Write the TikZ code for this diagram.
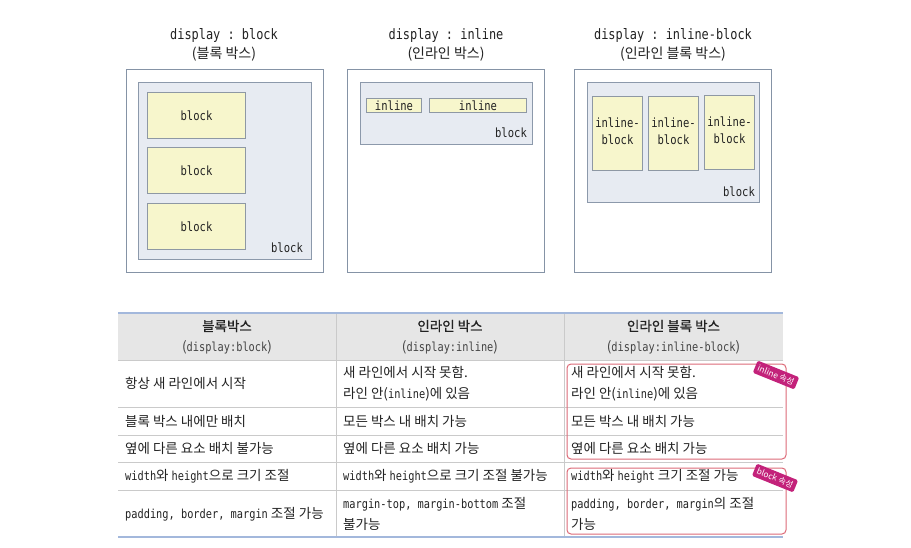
\documentclass[tikz,border=0pt]{standalone}
\usepackage{fontspec}
\setmainfont{Noto Sans CJK KR}
\newfontfamily\hdfont{Noto Sans CJK KR}[FakeBold=0.9]
\setmonofont{DejaVu Sans Mono}[Scale=0.92, FakeStretch=0.83]
\newcommand\mt[1]{{\ttfamily #1}}
\definecolor{txt}{HTML}{222222}
\definecolor{outerc}{HTML}{8593A6}
\definecolor{innerf}{HTML}{E7EBF2}
\definecolor{innerd}{HTML}{8C99AB}
\definecolor{yelf}{HTML}{F7F6CC}
\definecolor{yeld}{HTML}{8E98A4}
\definecolor{headf}{HTML}{E6E6E6}
\definecolor{blueline}{HTML}{A3B8DC}
\definecolor{grayline}{HTML}{CACACA}
\definecolor{redbox}{HTML}{DD6B78}
\definecolor{tagc}{HTML}{C3227A}
\tikzset{
  outerbox/.style={draw=outerc, line width=1.1pt, fill=white, anchor=north west, inner sep=0pt},
  innerbox/.style={draw=innerd, line width=1pt, fill=innerf, anchor=north west, inner sep=0pt},
  yelbox/.style={draw=yeld, line width=1pt, fill=yelf, anchor=north west, inner sep=0pt},
  monolbl/.style={text=txt, font=\fontsize{13.8}{17}\selectfont\ttfamily, inner sep=0pt, align=center},
  titlemono/.style={text=txt, font=\fontsize{15.6}{18}\selectfont\ttfamily, inner sep=0pt},
  titlekr/.style={text=txt, font=\fontsize{14}{18}\selectfont, inner sep=0pt},
  cell/.style={text=txt, font=\fontsize{13.5}{21}\selectfont, inner sep=0pt, anchor=west, align=left},
  headkr/.style={text=txt, font=\fontsize{13.5}{18}\selectfont\hdfont, inner sep=0pt},
  headcode/.style={text=txt!85, font=\fontsize{13.5}{18}\selectfont, inner sep=0pt},
  rline/.style={draw=grayline, line width=0.8pt},
  bline/.style={draw=blueline, line width=1.8pt},
  redframe/.style={draw=redbox, line width=1pt, rounded corners=4pt},
  tag/.style={fill=tagc, text=white, font=\fontsize{8.3}{8}\selectfont, rounded corners=1.5pt, inner xsep=3pt, inner ysep=2.8pt, rotate=-22},
}
\begin{document}
\begin{tikzpicture}[x=1pt,y=-1pt]
\useasboundingbox (0,0) rectangle (911,547);
\fill[white] (0,0) rectangle (911,547);

% ---- titles
\node[titlemono] (t1a) at (224,35) {display : block};
\node[titlekr]   (t1b) at (224,54) {(블록 박스)};
\node[titlemono] (t2a) at (446,35) {display : inline};
\node[titlekr]   (t2b) at (446,54) {(인라인 박스)};
\node[titlemono] (t3a) at (673,35) {display : inline-block};
\node[titlekr]   (t3b) at (673,54) {(인라인 블록 박스)};

% ---- diagram 1
\node[outerbox, minimum width=197pt, minimum height=203pt] (o1) at (126,69) {};
\node[innerbox, minimum width=173pt, minimum height=177pt] (i1) at (138,82) {};
\node[yelbox, minimum width=98pt, minimum height=46pt] (b11) at (147,92) {};
\node[yelbox, minimum width=98pt, minimum height=46pt] (b12) at (147,147) {};
\node[yelbox, minimum width=98pt, minimum height=46pt] (b13) at (147,203) {};
\node[monolbl] at (b11.center) {block};
\node[monolbl] at (b12.center) {block};
\node[monolbl] at (b13.center) {block};
\node[monolbl] (l1) at (287,248) {block};

% ---- diagram 2
\node[outerbox, minimum width=197pt, minimum height=203pt] (o2) at (347,69) {};
\node[innerbox, minimum width=172pt, minimum height=62pt] (i2) at (360,82) {};
\node[yelbox, minimum width=55pt, minimum height=14pt] (n21) at (366,98) {};
\node[yelbox, minimum width=97pt, minimum height=14pt] (n22) at (429,98) {};
\node[monolbl] at (n21.center) {inline};
\node[monolbl] at (n22.center) {inline};
\node[monolbl] (l2) at (511,133) {block};

% ---- diagram 3
\node[outerbox, minimum width=197pt, minimum height=203pt] (o3) at (574,69) {};
\node[innerbox, minimum width=172pt, minimum height=120pt] (i3) at (587,82) {};
\node[yelbox, minimum width=50pt, minimum height=74pt] (ib1) at (592,96) {};
\node[yelbox, minimum width=50pt, minimum height=74pt] (ib2) at (648,96) {};
\node[yelbox, minimum width=50pt, minimum height=74pt] (ib3) at (704,95) {};
\node[monolbl] at ([yshift=2pt]ib1.center) {inline-\\block};
\node[monolbl] at ([yshift=2pt]ib2.center) {inline-\\block};
\node[monolbl] at ([yshift=2pt]ib3.center) {inline-\\block};
\node[monolbl] (l3) at (739,192) {block};

% ---- table
\fill[headf] (118,313) rectangle (783,360);
\draw[rline] (118,360) -- (783,360);
\draw[rline] (118,407) -- (783,407);
\draw[rline] (118,435) -- (783,435);
\draw[rline] (118,462) -- (783,462);
\draw[rline] (118,490) -- (783,490);
\draw[rline] (336,313) -- (336,537);
\draw[rline] (564,313) -- (564,537);
\draw[bline] (118,313) -- (783,313);
\draw[bline] (118,537) -- (783,537);

\node[headkr]   (h1a) at (227,326) {블록박스};
\node[headcode] (h1b) at (227,347) {(\mt{display:block})};
\node[headkr]   (h2a) at (450,326) {인라인 박스};
\node[headcode] (h2b) at (450,347) {(\mt{display:inline})};
\node[headkr]   (h3a) at (673.5,326) {인라인 블록 박스};
\node[headcode] (h3b) at (673.5,347) {(\mt{display:inline-block})};

% row 1
\node[cell] (c11) at (125,383.5) {항상 새 라인에서 시작};
\node[cell] (c12) at (343,383.5) {새 라인에서 시작 못함.\\라인 안(\mt{inline})에 있음};
\node[cell] (c13) at (571,383.5) {새 라인에서 시작 못함.\\라인 안(\mt{inline})에 있음};
% row 2
\node[cell] (c21) at (125,421) {블록 박스 내에만 배치};
\node[cell] (c22) at (343,421) {모든 박스 내 배치 가능};
\node[cell] (c23) at (571,421) {모든 박스 내 배치 가능};
% row 3
\node[cell] (c31) at (125,448.5) {옆에 다른 요소 배치 불가능};
\node[cell] (c32) at (343,448.5) {옆에 다른 요소 배치 가능};
\node[cell] (c33) at (571,448.5) {옆에 다른 요소 배치 가능};
% row 4
\node[cell] (c41) at (125,476) {\mt{width}와 \mt{height}으로 크기 조절};
\node[cell] (c42) at (343,476) {\mt{width}와 \mt{height}으로 크기 조절 불가능};
\node[cell] (c43) at (571,476) {\mt{width}와 \mt{height} 크기 조절 가능};
% row 5
\node[cell] (c51) at (125,514) {\mt{padding, border, margin} 조절 가능};
\node[cell] (c52) at (343,514) {\mt{margin-top, margin-bottom} 조절\\불가능};
\node[cell] (c53) at (571,514) {\mt{padding, border, margin}의 조절\\가능};

% red frames
\draw[redframe] (567,364) rectangle (786,459);
\draw[redframe] (567,468) rectangle (786,534);

% tags
\node[tag] (tag1) at (776,375) {inline 속성};
\node[tag] (tag2) at (775,478) {block 속성};
\end{tikzpicture}
\end{document}
